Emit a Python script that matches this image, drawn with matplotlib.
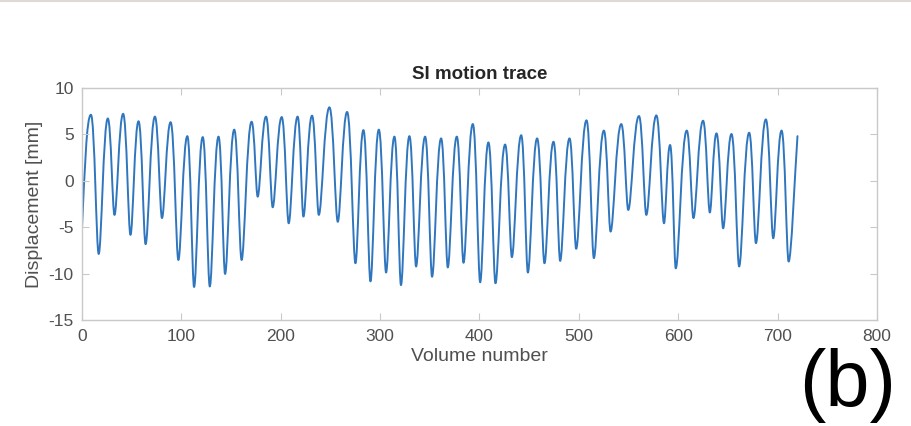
import matplotlib
matplotlib.use("Agg")
import matplotlib.pyplot as plt
from matplotlib.path import Path
from matplotlib.patches import PathPatch
from matplotlib.lines import Line2D

# Turning points of the SI motion trace (volume, mm)
extrema_volume = [0,
    9, 16.8, 26, 32.7, 41.4, 48.8, 56.9, 64, 73.4, 80.5, 89.2, 97, 106, 112.8,
    121.5, 128.6, 137.4, 144, 153.2, 160.6, 170.7, 176.8, 185.2, 191.9, 201, 208,
    217, 222.8, 231.5, 238.3, 249, 257.4, 266.8, 275.2, 283.2, 290.3, 298.7, 306,
    314.4, 321, 329.5, 336.2, 345.3, 352.3, 361.4, 368.1, 377.2, 383.9, 393.3, 400.7,
    409, 416.1, 425.8, 432.6, 442, 448.7, 458, 465.4, 474.5, 481.2, 490.6, 497.3,
    507.7, 515.1, 525.2, 531.9, 542.7, 549.7, 560.5, 567.9, 578, 585.7, 591.8, 597.5,
    608.6, 615.3, 625, 631.8, 638.5, 645.2, 653.6, 661.3, 671.4, 678.2, 688.2, 695.6,
    704, 711.1,
    720]
extrema_mm = [-5.1,
    7.1, -7.85, 6.7, -3.66, 7.2, -5.8, 6.4, -6.8, 6.9, -4.0, 6.3, -8.5, 4.8, -11.4,
    4.7, -11.35, 4.75, -10.0, 5.5, -8.5, 6.35, -1.7, 6.9, -2.84, 6.85, -4.56,
    6.9, -3.84, 7.0, -3.66, 7.9, -4.4, 7.4, -8.85, 5.45, -10.8, 5.5, -9.85,
    4.75, -11.2, 4.8, -9.2, 4.75, -10.3, 4.56, -9.3, 4.75, -8.8, 6.1, -10.9,
    4.13, -11.0, 3.9, -8.2, 4.9, -9.85, 4.56, -8.85, 4.2, -8.6, 4.56, -7.3,
    6.5, -8.3, 5.4, -5.45, 6.1, -3.13, 6.96, -3.66, 7.03, -4.56, 3.85, -9.4,
    5.4, -4.0, 6.46, -3.4, 5.1, -5.1, 5.03, -9.2, 5.17, -6.7, 6.6, -6.17,
    5.4, -8.67,
    4.8]

x_ticks = [0, 100, 200, 300, 400, 500, 600, 700, 800]
y_ticks = [-15, -10, -5, 0, 5, 10]

plt.rcParams['font.family'] = ['Liberation Sans', 'DejaVu Sans']
plt.rcParams['axes.unicode_minus'] = False

fig = plt.figure(figsize=(9.12, 4.26), dpi=100)
ax = fig.add_axes([0.0899, 0.2477, 0.8717, 0.5463])

# smooth curve through the turning points (horizontal tangents at extrema)
verts = [(extrema_volume[0], extrema_mm[0])]
codes = [Path.MOVETO]
n = len(extrema_volume)
for i in range(n - 1):
    x0, y0 = extrema_volume[i], extrema_mm[i]
    x1, y1 = extrema_volume[i + 1], extrema_mm[i + 1]
    d = x1 - x0
    k0 = 0.48 if y0 > y1 else 0.3
    k1 = 0.48 if y1 > y0 else 0.3
    if i == 0:
        c0 = (x0 + d * 0.3, y0 + (y1 - y0) * 0.5)
    else:
        c0 = (x0 + d * k0, y0)
    if i + 1 == n - 1:
        c1 = (x1 - d * 0.3, y1 - (y1 - y0) * 0.3)
    else:
        c1 = (x1 - d * k1, y1)
    verts += [c0, c1, (x1, y1)]
    codes += [Path.CURVE4, Path.CURVE4, Path.CURVE4]

trace = PathPatch(Path(verts, codes), fill=False, edgecolor='#2f76be',
                  linewidth=1.4, transform=ax.transData, capstyle='round',
                  joinstyle='round')
ax.add_patch(trace)

ax.set_xlim(0, 800)
ax.set_ylim(-15, 10)
ax.set_xticks(x_ticks)
ax.set_yticks(y_ticks)

edge = '#c9c9c9'
for s in ax.spines.values():
    s.set_color(edge)
    s.set_linewidth(1.0)
ax.tick_params(direction='in', length=5, width=0.8, color=edge,
               top=True, right=True, labelsize=12.5, labelcolor='#505050',
               pad=6)

ax.set_xlabel('Volume number', fontsize=14, color='#505050', labelpad=3)
ax.set_ylabel('Displacement [mm]', fontsize=14, color='#505050', labelpad=4)
ax.set_title('SI motion trace', fontsize=13.5, fontweight='bold',
             color='#262626', pad=6)

fig.text(0.929, 0.094, '(b)', fontsize=57, color='black',
         ha='center', va='center')

# faint edge of the source page at the top
fig.add_artist(Line2D([0, 1], [0.998, 0.998], transform=fig.transFigure,
                      color='#dedad6', linewidth=1.5))

fig.savefig('out.png', dpi=100, facecolor='white')
